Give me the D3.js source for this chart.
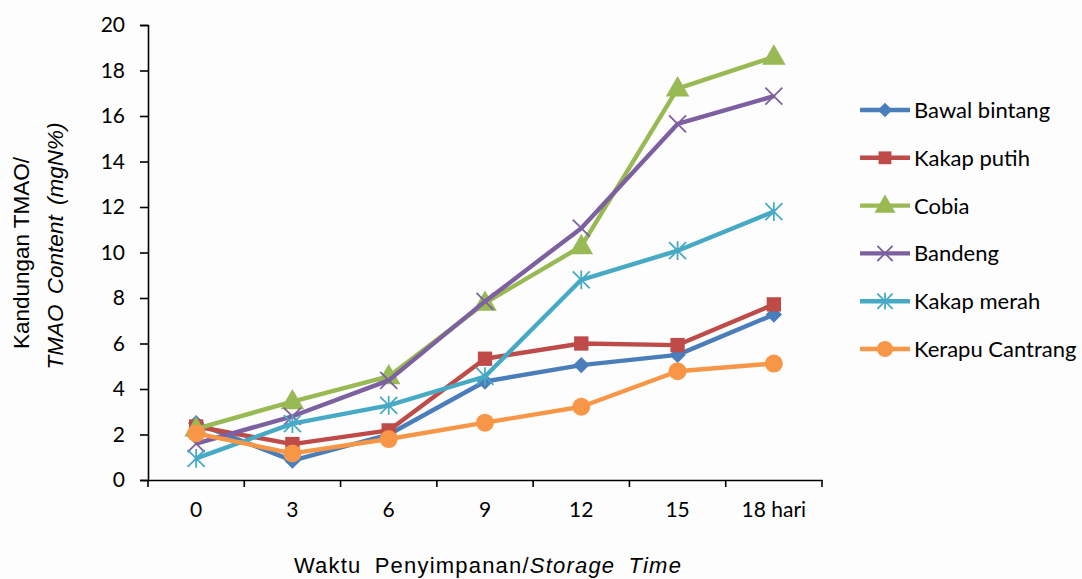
<!DOCTYPE html>
<html><head><meta charset="utf-8">
<script src="https://cdn.jsdelivr.net/npm/d3@7"></script>
<style>body{margin:0;background:#fdfdfd}svg{display:block}</style>
</head><body><svg id="c" width="1082" height="579"></svg>
<script>
const categories = ["0","3","6","9","12","15","18 hari"];
const yTicks = [0,2,4,6,8,10,12,14,16,18,20];
const seriesNames = ["Bawal bintang","Kakap putih","Cobia","Bandeng","Kakap merah","Kerapu Cantrang"];
const bawalBintang = [2.5,0.85,2.0,4.33,5.05,5.5,7.27];
const kakapPutih = [2.35,1.58,2.18,5.33,6.0,5.93,7.72];
const cobia = [2.25,3.45,4.55,7.78,10.27,17.2,18.6];
const bandeng = [1.6,2.8,4.38,7.85,11.07,15.65,16.87];
const kakapMerah = [0.95,2.48,3.28,4.55,8.8,10.08,11.8];
const kerapuCantrang = [2.05,1.17,1.8,2.52,3.22,4.78,5.12];
const colors = ["#4A7EBB","#BE4B48","#98B954","#7D60A0","#46AAC5","#F79646"];
const markers = ["diamond","square","triangle","x","star","circle"];
const allSeries = [bawalBintang,kakapPutih,cobia,bandeng,kakapMerah,kerapuCantrang];

const svg = d3.select("#c");
const pLeft=148, pRight=822, pTop=25, pBottom=480;
const x = d3.scaleBand().domain(categories).range([pLeft,pRight]);
const y = d3.scaleLinear().domain([0,20]).range([pBottom,pTop]);
const tickFont = "Lato, 'Open Sans', sans-serif";

// Y axis
const ya = svg.append("g").attr("transform",`translate(${pLeft},0)`)
  .call(d3.axisLeft(y).tickValues(yTicks).tickSize(8).tickPadding(15));
ya.select(".domain").attr("stroke","#000").attr("stroke-width",1.6);
ya.selectAll(".tick line").attr("stroke","#000").attr("stroke-width",1.6);
ya.selectAll(".tick text").attr("font-family",tickFont).attr("font-size",21).attr("fill","#000");

// X axis with boundary ticks
const xa = svg.append("g").attr("transform",`translate(0,${pBottom})`)
  .call(d3.axisBottom(x).tickSize(0).tickPadding(22));
xa.select(".domain").attr("stroke","#000").attr("stroke-width",1.6);
xa.selectAll(".tick text").attr("font-family",tickFont).attr("font-size",21).attr("fill","#000");
const bounds = categories.map(c=>x(c)).concat([x(categories[categories.length-1])+x.bandwidth()]);
xa.selectAll(".bt").data(bounds).enter().append("line")
  .attr("x1",d=>d).attr("x2",d=>d).attr("y1",0).attr("y2",7)
  .attr("stroke","#000").attr("stroke-width",1.6);

const cx = c => x(c)+x.bandwidth()/2;
const line = d3.line().x((d,i)=>cx(categories[i])).y(d=>y(d));

function drawMarker(g, type, color, px, py, scale){
  scale = scale||1;
  if(type==="diamond"){
    g.append("path").attr("d",d3.symbol().type(d3.symbolDiamond2).size(170*scale)())
     .attr("transform",`translate(${px},${py})`).attr("fill",color);
  } else if(type==="square"){
    g.append("path").attr("d",d3.symbol().type(d3.symbolSquare).size(205*scale)())
     .attr("transform",`translate(${px},${py})`).attr("fill",color);
  } else if(type==="triangle"){
    g.append("path").attr("d",d3.symbol().type(d3.symbolTriangle).size(240*scale)())
     .attr("transform",`translate(${px},${py+1})`).attr("fill",color);
  } else if(type==="circle"){
    g.append("circle").attr("cx",px).attr("cy",py).attr("r",9*Math.sqrt(scale)).attr("fill",color);
  } else if(type==="x"){
    const s=8.5*Math.sqrt(scale);
    g.append("path").attr("d",`M${px-s},${py-s}L${px+s},${py+s}M${px-s},${py+s}L${px+s},${py-s}`)
     .attr("stroke",color).attr("stroke-width",1.8).attr("fill","none");
  } else if(type==="star"){
    const s=8.5*Math.sqrt(scale);
    g.append("path").attr("d",`M${px-s},${py-s}L${px+s},${py+s}M${px-s},${py+s}L${px+s},${py-s}M${px},${py-s*1.1}L${px},${py+s*1.1}`)
     .attr("stroke",color).attr("stroke-width",1.8).attr("fill","none");
  }
}

allSeries.forEach((data,si)=>{
  const g = svg.append("g");
  g.append("path").datum(data).attr("d",line).attr("fill","none")
   .attr("stroke",colors[si]).attr("stroke-width",4.4).attr("stroke-linejoin","round");
  data.forEach((v,i)=>drawMarker(g,markers[si],colors[si],cx(categories[i]),y(v)));
});

// Legend
const lg = svg.append("g");
seriesNames.forEach((n,i)=>{
  const ly = 110 + i*47.8;
  lg.append("line").attr("x1",860).attr("x2",910).attr("y1",ly).attr("y2",ly)
    .attr("stroke",colors[i]).attr("stroke-width",4.4);
  drawMarker(lg,markers[i],colors[i],885,ly,0.8);
  lg.append("text").attr("x",914).attr("y",ly+8).text(n)
    .attr("font-family",tickFont).attr("font-size",22).attr("fill","#000");
});

// Axis titles
const yt = svg.append("text")
  .attr("font-family","'Liberation Sans', Arial, sans-serif").attr("font-size",22.5).attr("fill","#000")
  .attr("text-anchor","middle");
yt.append("tspan").attr("x",-253).attr("y",29).text("Kandungan TMAO/");
yt.append("tspan").attr("x",-246).attr("y",63).attr("font-style","italic").attr("word-spacing",4).text("TMAO Content (mgN%)");
yt.attr("transform","rotate(-90)");

const xt = svg.append("text").attr("x",488).attr("y",573)
  .attr("font-family","'Liberation Sans', Arial, sans-serif").attr("font-size",22).attr("fill","#000")
  .attr("text-anchor","middle").attr("word-spacing",6).attr("letter-spacing",1.2);
xt.append("tspan").text("Waktu Penyimpanan/");
xt.append("tspan").attr("font-style","italic").text("Storage Time");
</script></body></html>
